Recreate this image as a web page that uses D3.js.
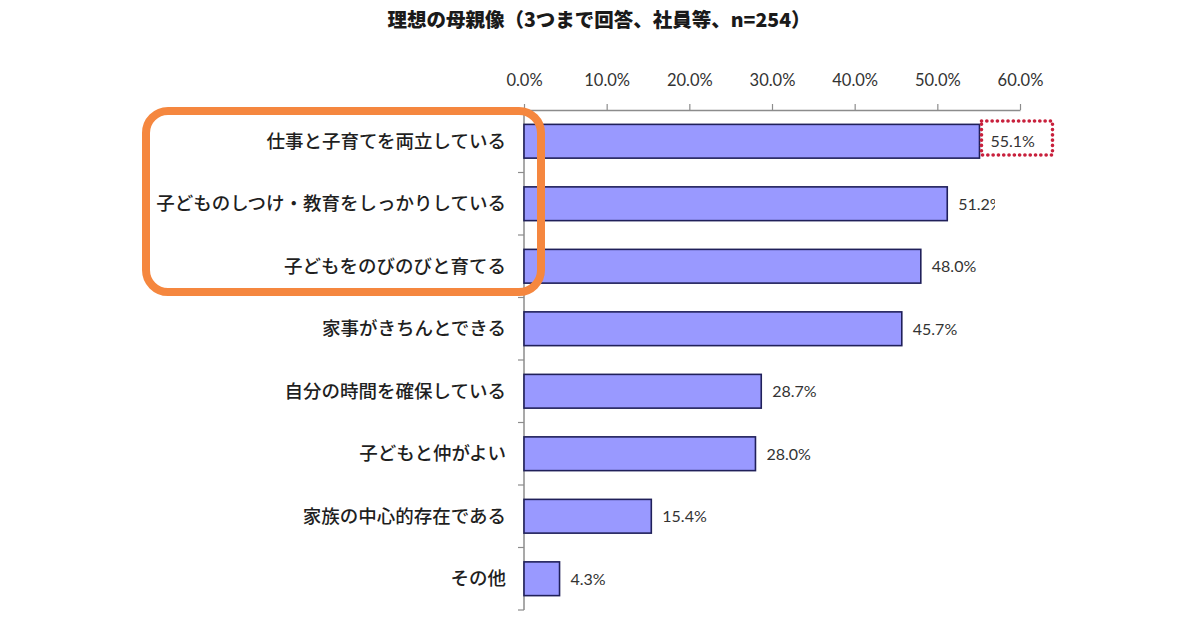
<!DOCTYPE html>
<html><head><meta charset="utf-8">
<script src="https://cdn.jsdelivr.net/npm/d3@7"></script>
<style>
body{margin:0;background:#fff;}
svg{display:block;}
</style></head>
<body>
<svg id="chart" width="1200" height="630"></svg>
<script>
const title = "理想の母親像（3つまで回答、社員等、n=254）";
const categories = [
  "仕事と子育てを両立している",
  "子どものしつけ・教育をしっかりしている",
  "子どもをのびのびと育てる",
  "家事がきちんとできる",
  "自分の時間を確保している",
  "子どもと仲がよい",
  "家族の中心的存在である",
  "その他"
];
const values = [55.1, 51.2, 48.0, 45.7, 28.7, 28.0, 15.4, 4.3];
const tickValues = [0, 10, 20, 30, 40, 50, 60];
const highlighted = [0, 1, 2];     // categories inside the orange box
const dottedLabel = 0;             // label with red dotted frame
const clippedLabel = 1;            // label cut off at the plot edge

const svg = d3.select("#chart");
const x0 = 524, x1 = 1020, yTop = 110, yBot = 610;
const x = d3.scaleLinear().domain([0, 60]).range([x0, x1]);
const y = d3.scaleBand().domain(categories).range([yTop, yBot]).padding(0);
const barH = y.step() * 0.54;
const jpFont = "'Noto Sans CJK JP', sans-serif";
const numFont = "Lato, 'Open Sans', sans-serif";

// title
svg.append("text").attr("x", 599).attr("y", 27).attr("text-anchor", "middle")
  .attr("font-family", jpFont).attr("font-weight", 900).attr("font-size", 19.5)
  .attr("fill", "#1a1a1a").text(title);

// top axis
const xAxis = d3.axisTop(x).tickValues(tickValues).tickSize(6).tickSizeOuter(0)
  .tickFormat(d => d.toFixed(1) + "%");
const gx = svg.append("g").attr("transform", `translate(0,${yTop})`).call(xAxis);
gx.select(".domain").attr("stroke", "#8c8c8c").attr("stroke-width", 1.5);
gx.selectAll(".tick line").attr("stroke", "#8c8c8c").attr("stroke-width", 1.2);
gx.selectAll(".tick text").attr("font-family", numFont).attr("font-size", 16.5)
  .attr("fill", "#333").attr("dy", "-0.45em").attr("y", -17);

// left axis: ticks at category boundaries
const boundaries = d3.range(categories.length + 1).map(i => yTop + i * y.step());
svg.append("line").attr("x1", x0).attr("x2", x0).attr("y1", yTop).attr("y2", yBot)
  .attr("stroke", "#8c8c8c").attr("stroke-width", 1.5);
svg.append("g").selectAll("line").data(boundaries).join("line")
  .attr("x1", x0 - 6).attr("x2", x0).attr("y1", d => d).attr("y2", d => d)
  .attr("stroke", "#8c8c8c").attr("stroke-width", 1.2);

// bars
svg.append("g").selectAll("rect").data(values).join("rect")
  .attr("x", x(0)).attr("width", d => x(d) - x(0))
  .attr("y", (d, i) => y(categories[i]) + (y.step() - barH) / 2)
  .attr("height", barH)
  .attr("fill", "#9999ff").attr("stroke", "#20205a").attr("stroke-width", 1.6);

// category labels
svg.append("g").selectAll("text").data(categories).join("text")
  .attr("x", 506).attr("y", d => y(d) + y.step() / 2).attr("dy", "0.36em")
  .attr("text-anchor", "end").attr("font-family", jpFont).attr("font-size", 18.5)
  .attr("font-weight", 500).attr("fill", "#1f1f1f").text(d => d);

// clip for the truncated label
svg.append("defs").append("clipPath").attr("id", "cut")
  .append("rect").attr("x", 0).attr("y", 0).attr("width", 995).attr("height", 630);

// value labels
svg.append("g").selectAll("text").data(values).join("text")
  .attr("x", d => x(d) + 11).attr("y", (d, i) => y(categories[i]) + y.step() / 2)
  .attr("dy", "0.36em").attr("font-family", numFont).attr("font-size", 16)
  .attr("fill", "#333").attr("clip-path", (d, i) => i === clippedLabel ? "url(#cut)" : null)
  .text(d => d.toFixed(1) + "%");

// red dotted frame around the top value
const v = values[dottedLabel], cy = y(categories[dottedLabel]);
svg.append("rect").attr("x", x(v) + 2).attr("y", cy + 11).attr("width", 71).attr("height", 34)
  .attr("fill", "none").attr("stroke", "#c8203c").attr("stroke-width", 3.6)
  .attr("stroke-linecap", "round").attr("stroke-dasharray", "0.1,5.2");

// orange highlight frame
const hTop = y(categories[highlighted[0]]);
const hBot = y(categories[highlighted[highlighted.length - 1]]) + y.step();
svg.append("rect").attr("x", 146).attr("y", hTop + 1).attr("width", 395)
  .attr("height", hBot - hTop - 6.5)
  .attr("rx", 22).attr("ry", 22)
  .attr("fill", "none").attr("stroke", "#f5873f").attr("stroke-width", 8);
</script>
</body></html>
